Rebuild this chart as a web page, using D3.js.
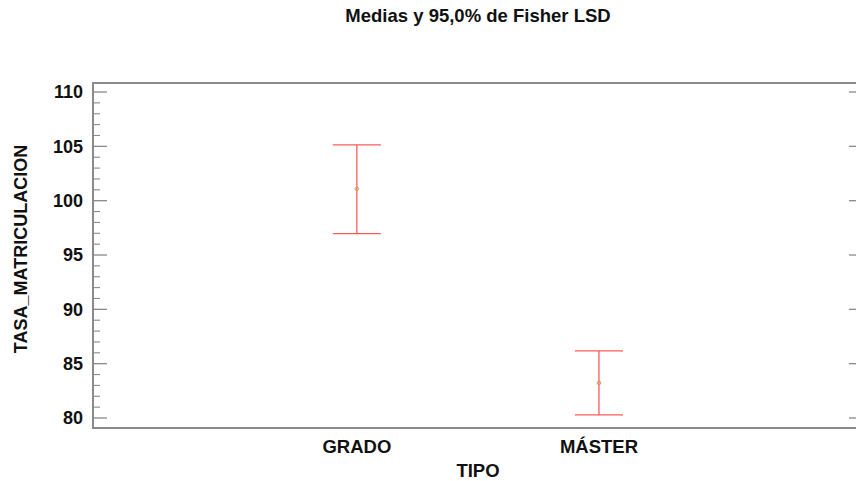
<!DOCTYPE html>
<html><head><meta charset="utf-8">
<script src="https://cdn.jsdelivr.net/npm/d3@7"></script>
<style>body{margin:0;background:#fff;}svg{display:block;font-family:"Liberation Sans",Arial,sans-serif;}</style>
</head><body>
<script>
const categories = ["GRADO", "MÁSTER"];
const means = [101.1, 83.23];
const lower = [96.97, 80.29];
const upper = [105.13, 86.17];
const yTicks = [80, 85, 90, 95, 100, 105, 110];
const title = "Medias y 95,0% de Fisher LSD";
const xTitle = "TIPO";
const yTitle = "TASA_MATRICULACION";

const W = 856, H = 481;
const m = {left: 93, top: 83, right: 858, bottom: 428};
const svg = d3.select("body").append("svg").attr("width", W).attr("height", H);

const y = d3.scaleLinear().domain([79.08, 110.83]).range([m.bottom, m.top]);
const x = d3.scaleLinear().domain([-0.09, 3.07]).range([m.left, m.right]);

const gray = "#8a8a8a";
// frame
svg.append("rect").attr("x", m.left).attr("y", m.top).attr("width", m.right - m.left).attr("height", m.bottom - m.top)
  .attr("fill", "none").attr("stroke", gray).attr("stroke-width", 2);

// left axis: major + minor ticks inward
const minor = d3.range(80, 111, 1).filter(v => v % 5 !== 0);
const gL = svg.append("g");
gL.selectAll("line.maj").data(yTicks).join("line")
  .attr("x1", m.left).attr("x2", m.left + 14).attr("y1", d => y(d)).attr("y2", d => y(d))
  .attr("stroke", gray).attr("stroke-width", 1.3);
gL.selectAll("line.min").data(minor).join("line")
  .attr("x1", m.left).attr("x2", m.left + 7).attr("y1", d => y(d)).attr("y2", d => y(d))
  .attr("stroke", gray).attr("stroke-width", 1.1);
gL.selectAll("text").data(yTicks).join("text")
  .attr("x", m.left - 10).attr("y", d => y(d)).attr("dy", "0.36em")
  .attr("text-anchor", "end").attr("font-size", 18).attr("font-weight", "bold").attr("fill", "#111")
  .text(d => d);
// right axis majors inward
svg.append("g").selectAll("line").data(yTicks).join("line")
  .attr("x1", m.right - 9).attr("x2", m.right).attr("y1", d => y(d)).attr("y2", d => y(d))
  .attr("stroke", gray).attr("stroke-width", 1.3);

// x labels
svg.append("g").selectAll("text").data(categories).join("text")
  .attr("x", (d, i) => x(i + 1)).attr("y", 453)
  .attr("text-anchor", "middle").attr("font-size", 18.5).attr("font-weight", "bold").attr("fill", "#111")
  .text(d => d);

// error bars
const red = "#ff5a5a";
const cap = 24;
const g = svg.append("g");
categories.forEach((c, i) => {
  const cx = x(i + 1);
  g.append("line").attr("x1", cx).attr("x2", cx).attr("y1", y(upper[i])).attr("y2", y(lower[i])).attr("stroke", red).attr("stroke-width", 1.3);
  g.append("line").attr("x1", cx - cap).attr("x2", cx + cap).attr("y1", y(upper[i])).attr("y2", y(upper[i])).attr("stroke", red).attr("stroke-width", 1.3);
  g.append("line").attr("x1", cx - cap).attr("x2", cx + cap).attr("y1", y(lower[i])).attr("y2", y(lower[i])).attr("stroke", red).attr("stroke-width", 1.3);
  g.append("circle").attr("cx", cx).attr("cy", y(means[i])).attr("r", 1.8).attr("fill", "none").attr("stroke", "#c8a050").attr("stroke-width", 1);
});

// titles
svg.append("text").attr("x", 478).attr("y", 22).attr("text-anchor", "middle")
  .attr("font-size", 18.5).attr("font-weight", "bold").attr("fill", "#111").text(title);
svg.append("text").attr("x", 478).attr("y", 477).attr("text-anchor", "middle")
  .attr("font-size", 18.5).attr("font-weight", "bold").attr("fill", "#111").text(xTitle);
svg.append("text").attr("transform", "translate(27,249) rotate(-90)").attr("text-anchor", "middle")
  .attr("font-size", 18).attr("font-weight", "bold").attr("fill", "#111").text(yTitle);
</script>
</body></html>
